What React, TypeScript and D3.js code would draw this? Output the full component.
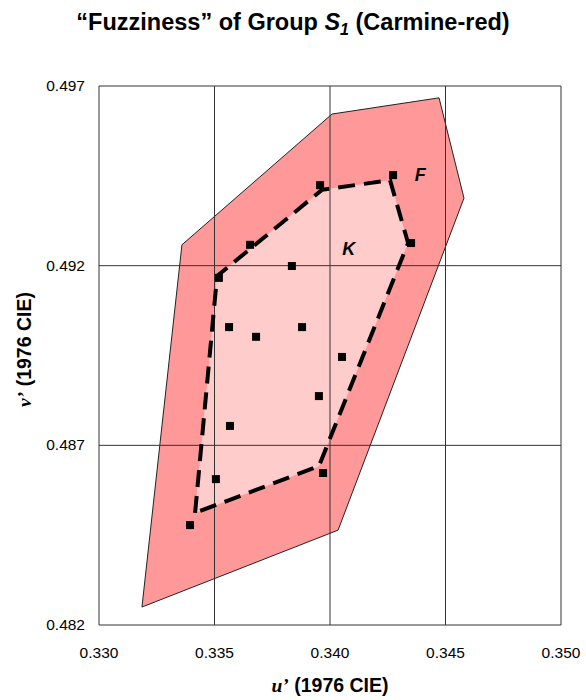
import React from "react";
import { scaleLinear, line } from "d3";

// outer "F" region vertices [u', v']
const fuzzyRegion: [number, number][] = [
  [0.33186, 0.4825],
  [0.33359, 0.49258],
  [0.34009, 0.49622],
  [0.34472, 0.49667],
  [0.3458, 0.49388],
  [0.34035, 0.48464],
];

// inner "K" hull vertices
const coreRegion: [number, number][] = [
  [0.33416, 0.48512],
  [0.33511, 0.49171],
  [0.33965, 0.49411],
  [0.3426, 0.49438],
  [0.34338, 0.49263],
  [0.33952, 0.48642],
];

// sample points
const samples: [number, number][] = [
  [0.33957, 0.49424],
  [0.34273, 0.49452],
  [0.34351, 0.49263],
  [0.33654, 0.49258],
  [0.33835, 0.49199],
  [0.33519, 0.49166],
  [0.33563, 0.49029],
  [0.33879, 0.49029],
  [0.3368, 0.49002],
  [0.34052, 0.48946],
  [0.33952, 0.48837],
  [0.33567, 0.48754],
  [0.33506, 0.48606],
  [0.3397, 0.48623],
  [0.33394, 0.48478],
];

const uTicks = [0.33, 0.335, 0.34, 0.345, 0.35];
const vTicks = [0.482, 0.487, 0.492, 0.497];

const W = 586;
const H = 700;
const margin = { top: 86, right: 25, bottom: 75, left: 99 };
const font = "'Liberation Sans', Arial, sans-serif";

export default function App() {
  const x = scaleLinear()
    .domain([0.33, 0.35])
    .range([margin.left, W - margin.right]);
  const y = scaleLinear()
    .domain([0.482, 0.497])
    .range([H - margin.bottom, margin.top]);

  const path = line<[number, number]>()
    .x(d => x(d[0]))
    .y(d => y(d[1]));

  const x0 = x(0.33), x1 = x(0.35);
  const y0 = y(0.482), y1 = y(0.497);
  const sq = 8;

  return (
    <svg
      width={W}
      height={H}
      style={{ position: "absolute", left: 0, top: 0, background: "#fff" }}
      fontFamily={font}
    >
      <text x={W / 2} y={30} textAnchor="middle" fontSize={23.5} fontWeight="bold">
        “Fuzziness” of Group <tspan fontStyle="italic">S</tspan>
        <tspan fontStyle="italic" fontSize={16} dy={5}>1</tspan>
        <tspan dy={-5}> (Carmine-red)</tspan>
      </text>

      <path d={path(fuzzyRegion) + "Z"} fill="#ff9999" stroke="#222" strokeWidth={1} />
      <path d={path(coreRegion) + "Z"} fill="#ffcccc" stroke="none" />

      {/* grid */}
      {uTicks.map(t => (
        <line key={"u" + t} x1={x(t)} x2={x(t)} y1={y0} y2={y1} stroke="#333" strokeWidth={1} />
      ))}
      {vTicks.map(t => (
        <line key={"v" + t} x1={x0} x2={x1} y1={y(t)} y2={y(t)} stroke="#333" strokeWidth={1} />
      ))}

      <path
        d={path(coreRegion) + "Z"}
        fill="none"
        stroke="#000"
        strokeWidth={4}
        strokeDasharray="17 9"
      />

      {samples.map((d, i) => (
        <rect key={i} x={x(d[0]) - sq / 2} y={y(d[1]) - sq / 2} width={sq} height={sq} fill="#000" />
      ))}

      <text x={x(0.34367)} y={y(0.49436)} fontSize={18} fontWeight="bold" fontStyle="italic">F</text>
      <text x={x(0.34053)} y={y(0.4923)} fontSize={18} fontWeight="bold" fontStyle="italic">K</text>

      {uTicks.map(t => (
        <text key={"ul" + t} x={x(t)} y={y0 + 33} textAnchor="middle" fontSize={15.5}>
          {t.toFixed(3)}
        </text>
      ))}
      {vTicks.map(t => (
        <text key={"vl" + t} x={x0 - 14} y={y(t) + 5} textAnchor="end" fontSize={15.5}>
          {t.toFixed(3)}
        </text>
      ))}

      <text x={(x0 + x1) / 2} y={H - 8} textAnchor="middle" fontSize={19.5} fontWeight="bold">
        <tspan fontFamily="'Liberation Serif', serif" fontStyle="italic">u’</tspan> (1976 CIE)
      </text>
      <text
        transform={`translate(31, ${(y0 + y1) / 2 - 6}) rotate(-90)`}
        textAnchor="middle"
        fontSize={19.5}
        fontWeight="bold"
      >
        <tspan fontFamily="'Liberation Serif', serif" fontStyle="italic">v’</tspan> (1976 CIE)
      </text>
    </svg>
  );
}
